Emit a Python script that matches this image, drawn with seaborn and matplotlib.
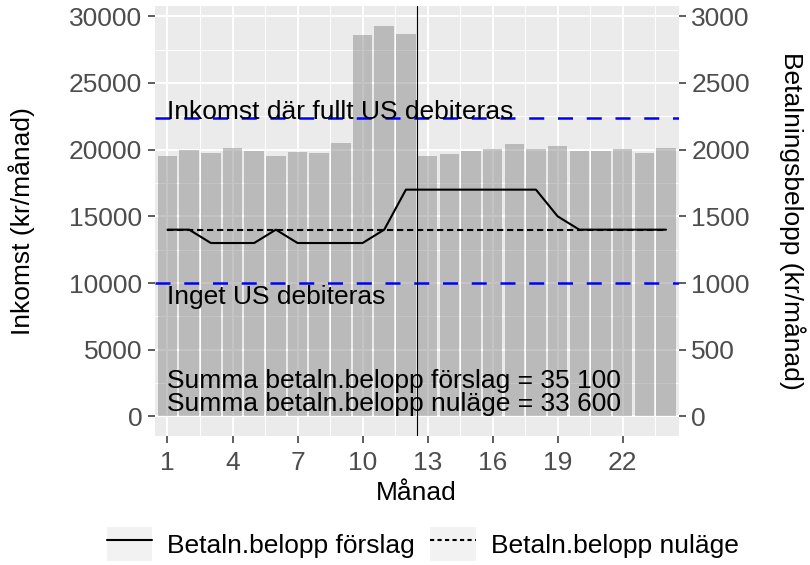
import numpy as np
import matplotlib
matplotlib.use("Agg")
import matplotlib.pyplot as plt
import seaborn as sns
from matplotlib.ticker import MultipleLocator
from matplotlib.legend_handler import HandlerLine2D
from matplotlib.patches import Rectangle
from matplotlib.lines import Line2D

# --- data ---
months = list(range(1, 25))
income = [19550, 20000, 19730, 20130, 19880, 19500, 19800, 19730, 20460, 28560, 29300, 28660,
          19550, 19680, 19880, 20080, 20400, 20080, 20250, 19880, 19930, 20080, 19730, 20150]
pay_proposal = [1400, 1400, 1300, 1300, 1300, 1400, 1300, 1300, 1300, 1300, 1400, 1700,
                1700, 1700, 1700, 1700, 1700, 1700, 1500, 1400, 1400, 1400, 1400, 1400]
pay_current = [1400] * 24
full_fee_income = 22400
no_fee_income = 10000
split_month = 12.5

FS = 19

sns.set_theme(style="darkgrid", rc={"axes.facecolor": "#EBEBEB", "grid.color": "white"})
plt.rcParams["font.family"] = ["Liberation Sans", "DejaVu Sans"]
plt.rcParams["text.color"] = "black"
plt.rcParams["axes.labelcolor"] = "black"

fig, ax = plt.subplots(figsize=(8.1, 5.65), dpi=100)
fig.subplots_adjust(left=0.191, right=0.838, top=0.9894, bottom=0.2283)

sns.barplot(x=months, y=income, native_scale=True, width=0.9, color="#7F7F7F",
            alpha=0.45, linewidth=0, errorbar=None, ax=ax)

# threshold lines
ax.axhline(full_fee_income, color="blue", lw=1.8, dashes=(6, 5.5), zorder=3)
ax.axhline(no_fee_income, color="blue", lw=1.8, dashes=(6, 5.5), zorder=3)

ax.text(1, full_fee_income - 100, "Inkomst där fullt US debiteras", fontsize=FS,
        ha="left", va="baseline", zorder=4)
ax.text(1, no_fee_income - 150, "Inget US debiteras", fontsize=FS, ha="left", va="top", zorder=4)

def fmt(v):
    return f"{v:,}".replace(",", " ")

ax.text(1, 50, f"Summa betaln.belopp förslag = {fmt(sum(pay_proposal))}\n"
               f"Summa betaln.belopp nuläge = {fmt(sum(pay_current))}",
        fontsize=FS, ha="left", va="bottom", linespacing=0.95, zorder=4)

ylo, yhi = -1465, 30765
ax.set_ylim(ylo, yhi)
ax.set_xlim(0.41, 24.59)
ax.set_xticks([1, 4, 7, 10, 13, 16, 19, 22])
ax.set_yticks(range(0, 30001, 5000))
ax.set_xticks(np.arange(2.5, 24, 3), minor=True)
ax.yaxis.set_minor_locator(MultipleLocator(2500))
ax.grid(which="major", color="white", lw=1.4)
ax.grid(which="minor", color="white", lw=0.7)
ax.set_axisbelow(True)
for s in ax.spines.values():
    s.set_visible(False)

ax.tick_params(axis="both", which="major", labelsize=FS, labelcolor="#4D4D4D", color="#333333",
               length=5, width=1.1, pad=4, bottom=True, left=True)
ax.tick_params(axis="x", which="major", pad=5.5)
ax.tick_params(axis="both", which="minor", length=0)
ax.set_xlabel("Månad", fontsize=FS, va="center")
ax.set_ylabel("Inkomst (kr/månad)", fontsize=FS, va="center")
ax.xaxis.set_label_coords(0.5, -0.1326)
ax.yaxis.set_label_coords(-0.254, 0.5)

# payment lines on the secondary (kr) axis
ax2 = ax.twinx()
sns.lineplot(x=months, y=pay_proposal, color="black", lw=1.5, ax=ax2)
sns.lineplot(x=months, y=pay_current, color="black", lw=1.5, dashes=False, ax=ax2,
             linestyle=(0, (3, 1.8)))
ax2.axvline(split_month, color="black", lw=0.8)
ax2.set_ylim(ylo / 10, yhi / 10)
ax2.set_yticks(range(0, 3001, 500))
ax2.grid(False)
for s in ax2.spines.values():
    s.set_visible(False)
ax2.tick_params(axis="y", labelsize=FS, labelcolor="#4D4D4D", color="#333333",
                length=5, width=1.1, pad=4, right=True)
ax2.set_ylabel("Betalningsbelopp (kr/månad)", fontsize=FS, rotation=270, va="center")
ax2.yaxis.set_label_coords(1.216, 0.5)


# legend keys with a light grey box behind them, ggplot style
class KeyHandler(HandlerLine2D):
    def create_artists(self, legend, orig_handle, xdescent, ydescent, width, height, fontsize, trans):
        rect = Rectangle((-xdescent, -ydescent), width, height, facecolor="#F2F2F2",
                         edgecolor="none", transform=trans)
        arts = super().create_artists(legend, orig_handle, xdescent, ydescent, width, height,
                                      fontsize, trans)
        return [rect] + list(arts)


handles = [Line2D([], [], color="black", lw=1.5),
           Line2D([], [], color="black", lw=1.5, linestyle=(0, (2, 1.6)))]
fig.legend(handles, ["Betaln.belopp förslag", "Betaln.belopp nuläge"], loc="center",
           bbox_to_anchor=(0.522, 0.037), ncol=2, frameon=False, fontsize=FS,
           handlelength=1.74, handleheight=1.6, handletextpad=0.57, columnspacing=0.57,
           handler_map={Line2D: KeyHandler()})

fig.savefig("out.png", dpi=100)
